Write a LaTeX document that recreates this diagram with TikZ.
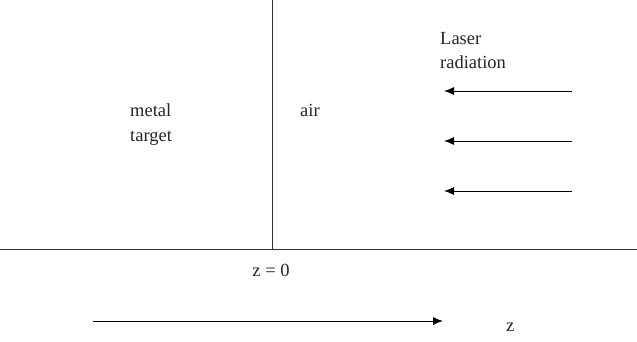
\documentclass[tikz,border=0pt]{standalone}
\usepackage{fontspec}
\setmainfont{Liberation Serif}
\usetikzlibrary{arrows.meta}
\begin{document}
\begin{tikzpicture}[x=1pt,y=-1pt,
  lbl/.style={anchor=base west,inner sep=0pt,font=\fontsize{18.5}{22}\selectfont,text=black!85},
  ln/.style={line width=1pt,draw=black!80},
  ray/.style={line width=1pt,draw=black,-{Latex[length=10pt,width=8pt]}}]
\useasboundingbox[fill=white] (0,0) rectangle (637,341);
\coordinate (vt) at (272,0);
\coordinate (vb) at (272,249);
\coordinate (hl) at (0,249);
\coordinate (hr) at (637,249);
\draw[ln] (vt) -- (vb);
\draw[ln] (hl) -- (hr);
\node[lbl] (metal) at (130,116) {metal};
\node[lbl] (target) at (130,141) {target};
\node[lbl] (air) at (300,116) {air};
\node[lbl] (laser) at (440,44) {Laser};
\node[lbl] (rad) at (440,68) {radiation};
\node[lbl,anchor=base] (z0) at (271,276) {z = 0};
\node[lbl] (z) at (506,331) {z};
\foreach \y/\n in {91/a,141/b,191/c}{
  \coordinate (s\n) at (572,\y);
  \coordinate (e\n) at (444,\y);
  \draw[ray] (s\n) -- (e\n);
}
\coordinate (zs) at (93,321);
\coordinate (ze) at (443,321);
\draw[ray] (zs) -- (ze);
\end{tikzpicture}
\end{document}
